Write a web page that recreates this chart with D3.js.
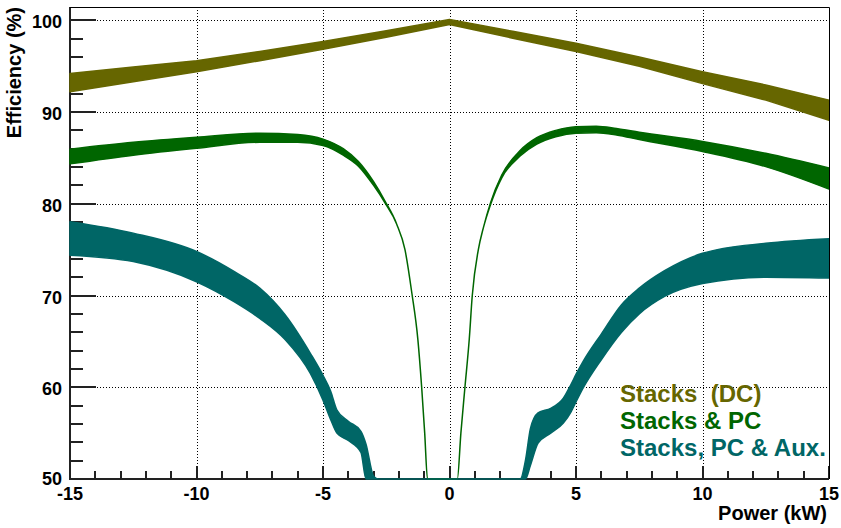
<!DOCTYPE html>
<html>
<head>
<meta charset="utf-8">
<script src="https://cdn.jsdelivr.net/npm/d3@7"></script>
<style>
  body { margin: 0; background: #fff; }
  text { font-family: 'Liberation Sans', Arial, sans-serif; font-weight: bold; }
</style>
</head>
<body>
<div id="chart"></div>
<script>
// Stacks (DC)
const dcX     = [-15, -12.5, -10, -7.5, -5, -2.5, 0, 2.5, 5, 7.5, 10, 12.5, 15];
const dcUpper = [94.2, 94.9, 95.6, 96.6, 97.7, 98.85, 100.1, 98.8, 97.5, 96.0, 94.4, 92.95, 91.3];
const dcLower = [92.2, 93.3, 94.4, 95.6, 96.85, 98.15, 99.55, 98.05, 96.6, 95.0, 93.1, 91.3, 89.1];

// Stacks & PC
const pcX     = [-15, -12.5, -10, -7.5, -6, -5, -4.2, -3.6, -3.0, -2.55, -2.09, -1.76, -1.49, -1.25, -1.10, -0.98, -0.87, -0.7,
                 0.15, 0.31, 0.45, 0.61, 0.78, 0.90, 1.14, 1.34, 1.62, 2.06, 2.79, 3.45, 4.2, 5.0, 5.8, 6.6, 7.5, 10, 12.5, 15];
const pcUpper = [85.95, 86.7, 87.25, 87.7, 87.55, 87.05, 86.0, 84.6, 82.4, 80.3, 77.8, 75.0, 70.3, 65.2, 60, 55, 50, 40,
                 40, 50, 55, 60, 65.2, 70, 75, 77.4, 80.1, 83.1, 85.8, 87.2, 88.0, 88.4, 88.45, 88.2, 87.8, 86.8, 85.5, 83.9];
const pcLower = [84.35, 85.3, 86.05, 86.7, 86.7, 86.35, 85.3, 84.1, 82.0, 80.1, 77.8, 75.0, 70.3, 65.2, 60, 55, 50, 40,
                 40, 50, 55, 60, 65.2, 70, 75, 77.4, 79.9, 82.8, 85.2, 86.5, 87.3, 87.7, 87.75, 87.5, 87.0, 85.7, 84.05, 81.6];

// Stacks, PC & Aux.
const auxX     = [-15, -12.5, -10, -8.5, -7.5, -6.5, -5.5, -5.0, -4.7, -4.45, -4.0, -3.5, -3.3, -3.0, -2.8,
                  2.8, 3.0, 3.2, 3.5, 4.0, 4.5, 4.8, 5.0, 5.3, 6.0, 6.8, 7.5, 8.5, 10, 12.5, 15];
const auxUpper = [78.05, 76.8, 74.8, 72.6, 70.8, 67.9, 63.7, 61.3, 59.6, 57.5, 56.3, 55.2, 53.8, 50.3, 45,
                  45, 52.0, 55.5, 57.2, 57.7, 58.8, 60.3, 61.4, 62.9, 65.8, 69.0, 70.8, 72.7, 74.6, 75.7, 76.2];
const auxLower = [74.4, 73.7, 71.5, 69.3, 67.5, 65.2, 61.5, 58.6, 56.5, 55.0, 54.2, 52.9, 50.0, 45, 45,
                  45, 45, 51.5, 53.9, 55.0, 56.1, 57.3, 58.4, 60.0, 63.0, 66.0, 68.0, 69.9, 71.3, 72.0, 71.9];

const legendLabels = ['Stacks  (DC)', 'Stacks & PC', 'Stacks, PC & Aux.'];
const xMajor = [-15, -10, -5, 0, 5, 10, 15];
const yMajor = [50, 60, 70, 80, 90, 100];
const xMinor = d3.range(-15, 16, 1);
const yMinor = d3.range(50, 101, 2);

const width = 841;
const height = 528;
const frame = {left: 70, right: 829, top: 7, bottom: 479};

const svg = d3.select('#chart')
  .append('svg')
    .attr('width', width)
    .attr('height', height);

const x = d3.scaleLinear()
  .domain([-15, 15])
  .range([frame.left, frame.right]);

// y=100 sits ~13px under the frame top
const y = d3.scaleLinear()
  .domain([50, 101.45])
  .range([frame.bottom, frame.top])
  .clamp(true);

// snap to pixel centres so thin lines stay sharp
const px = v => Math.round(v) + 0.5;

// dotted grid
const gridPath = d3.path();
xMajor.slice(1, -1).forEach(d => {
  gridPath.moveTo(px(x(d)), frame.top);
  gridPath.lineTo(px(x(d)), frame.bottom);
});
yMajor.slice(1).forEach(d => {
  gridPath.moveTo(frame.left, px(y(d)));
  gridPath.lineTo(frame.right, px(y(d)));
});
svg.append('path')
  .attr('d', gridPath.toString())
  .attr('fill', 'none')
  .attr('stroke', '#000')
  .attr('stroke-width', 1)
  .attr('stroke-dasharray', '1,2');

// efficiency bands
const series = [
  {xs: dcX, lo: dcLower, hi: dcUpper, color: '#666600', curve: d3.curveLinear},
  {xs: pcX, lo: pcLower, hi: pcUpper, color: '#006600', curve: d3.curveMonotoneX},
  {xs: auxX, lo: auxLower, hi: auxUpper, color: '#006666', curve: d3.curveMonotoneX}
];

// axis lines and inward ticks
const axisPath = d3.path();
axisPath.moveTo(frame.left, frame.top);
axisPath.lineTo(frame.left, frame.bottom);
axisPath.lineTo(frame.right, frame.bottom);
xMinor.forEach(d => {
  axisPath.moveTo(Math.round(x(d)), frame.bottom);
  axisPath.lineTo(Math.round(x(d)), frame.bottom - (d % 5 === 0 ? 13 : 8));
});
yMinor.forEach(d => {
  axisPath.moveTo(frame.left, Math.round(y(d)));
  axisPath.lineTo(frame.left + (d % 10 === 0 ? 26 : 13), Math.round(y(d)));
});
svg.append('path')
  .attr('d', axisPath.toString())
  .attr('fill', 'none')
  .attr('stroke', '#222')
  .attr('stroke-width', 2);

series.forEach(s => {
  const rows = s.xs.map((v, i) => ({x: v, lo: s.lo[i], hi: s.hi[i]}));
  const area = d3.area()
    .x(d => x(d.x))
    .y0(d => y(d.lo))
    .y1(d => y(d.hi))
    .curve(s.curve);
  svg.append('path')
    .datum(rows)
    .attr('d', area)
    .attr('fill', s.color)
    .attr('stroke', s.color)
    .attr('stroke-width', 1.5)
    .attr('stroke-linejoin', 'round');
});

// top and right frame edges
svg.append('path')
  .attr('d', `M${frame.left},${px(frame.top)}H${px(frame.right)}V${frame.bottom}`)
  .attr('fill', 'none')
  .attr('stroke', '#000')
  .attr('stroke-width', 1);

// tick labels
svg.append('g')
  .selectAll('text')
  .data(xMajor)
  .join('text')
    .attr('x', d => x(d))
    .attr('y', frame.bottom + 21)
    .attr('text-anchor', 'middle')
    .style('font-size', '18px')
    .text(d => String(d));
svg.append('g')
  .selectAll('text')
  .data(yMajor)
  .join('text')
    .attr('x', 62)
    .attr('y', d => y(d) + (d === 50 ? 6 : 8))
    .attr('text-anchor', 'end')
    .style('font-size', '18px')
    .text(d => String(d));

// legend
svg.append('g')
  .selectAll('text')
  .data(legendLabels)
  .join('text')
    .attr('x', 620)
    .attr('y', (d, i) => 402 + i * 27.2)
    .attr('fill', (d, i) => series[i].color)
    .style('font-size', '24px')
    .style('white-space', 'pre')
    .text(d => d);

// axis titles
svg.append('text')
  .attr('x', 827)
  .attr('y', 520)
  .attr('text-anchor', 'end')
  .style('font-size', '20px')
  .text('Power (kW)');

svg.append('text')
  .attr('transform', `translate(21, ${frame.top}) rotate(-90)`)
  .attr('text-anchor', 'end')
  .style('font-size', '20px')
  .text('Efficiency (%)');
</script>
</body>
</html>
